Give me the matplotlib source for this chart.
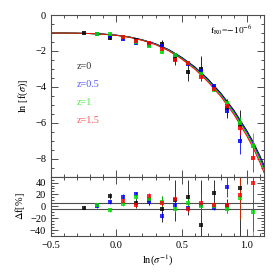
import numpy as np
import matplotlib.pyplot as plt
from matplotlib.ticker import MultipleLocator

plt.rcParams['font.family'] = ['Liberation Serif', 'DejaVu Serif']
plt.rcParams['mathtext.fontset'] = 'stix'

# theory curves  ln f(sigma) vs ln(1/sigma)
x_curve = [-0.5, -0.4, -0.3, -0.2, -0.1, 0.0, 0.1, 0.2, 0.3, 0.4, 0.5, 0.6, 0.7, 0.8, 0.9, 1.0, 1.05, 1.1, 1.15]
curve_z0 = [-1.00, -1.00, -1.01, -1.03, -1.06, -1.12, -1.22, -1.38, -1.60, -1.92, -2.35, -2.88, -3.55, -4.35, -5.30, -6.45, -7.10, -7.85, -8.70]
curve_z05 = [-1.00, -1.00, -1.01, -1.03, -1.06, -1.12, -1.22, -1.39, -1.61, -1.94, -2.38, -2.92, -3.60, -4.41, -5.38, -6.55, -7.22, -7.98, -8.85]
curve_z1 = [-1.00, -1.00, -1.01, -1.03, -1.07, -1.13, -1.23, -1.40, -1.63, -1.96, -2.41, -2.96, -3.65, -4.47, -5.45, -6.64, -7.32, -8.10, -8.98]
curve_z15 = [-1.00, -1.00, -1.01, -1.03, -1.07, -1.13, -1.24, -1.41, -1.65, -1.99, -2.45, -3.01, -3.71, -4.54, -5.54, -6.75, -7.44, -8.23, -9.12]

# simulation bins
x_bins = [-0.25, -0.15, -0.05, 0.05, 0.15, 0.25, 0.35, 0.45, 0.55, 0.65, 0.75, 0.85, 0.95, 1.05]
nan = np.nan
lnf_z0 = [-1.02, nan, -1.26, nan, -1.40, -1.62, -1.60, -2.45, -3.15, -3.00, -4.04, -5.20, -6.10, nan]
lnf_z05 = [nan, -1.06, -1.17, -1.33, -1.55, -1.64, -1.72, -2.20, -2.70, -3.10, -3.94, -5.37, -7.04, nan]
lnf_z1 = [nan, -1.05, -1.03, -1.20, -1.48, -1.70, -2.04, -2.22, -2.69, -3.30, -4.17, -4.90, -6.02, -7.28]
lnf_z15 = [nan, nan, nan, -1.24, -1.43, -1.57, -1.90, -2.50, -2.65, -3.43, -4.13, -5.09, -6.30, -7.96]
lnf_err_z0 = [0.03, nan, 0.05, nan, 0.08, 0.08, 0.22, 0.35, 0.5, 0.7, 0.2, 0.55, 0.8, nan]
lnf_err_z05 = [nan, 0.03, 0.03, 0.04, 0.04, 0.05, 0.06, 0.05, 0.05, 0.05, 0.05, 0.18, 0.7, nan]
lnf_err_z1 = [nan, 0.03, 0.03, 0.03, 0.04, 0.05, 0.1, 0.05, 0.08, 0.08, 0.05, 0.08, 0.35, 0.7]
lnf_err_z15 = [nan, nan, nan, 0.03, 0.03, 0.04, 0.05, 0.05, 0.05, 0.16, 0.04, 0.05, 0.4, 0.8]

# residuals in percent
df_z0 = [-2, nan, 17, nan, 6, 10, -5, 10, 15, -31, 22, 0, 31, nan]
df_z05 = [nan, 1, 7, 16, 20, 8, -16, 2, -2, 3, -2, 33, nan, nan]
df_z1 = [nan, 3, -6, 4, 16, 13, 8, -5, 6, 0, 0, -4, 14, -10]
df_z15 = [nan, nan, nan, 9, 2, 18, 6, 13, -5, 6, 3, 2, 19, 39]
df_err_z0 = [3, nan, 5, nan, 8, 8, 22, 35, 30, 76, 22, 12, 85, nan]
df_err_z05 = [nan, 3, 3, 4, 4, 5, 6, 5, 5, 5, 5, 18, nan, nan]
df_err_z1 = [nan, 3, 3, 3, 4, 5, 10, 5, 8, 8, 5, 8, 36, 70]
df_err_z15 = [nan, nan, nan, 3, 3, 4, 5, 5, 5, 16, 4, 5, 40, 80]

labels = ['z=0', 'z=0.5', 'z=1', 'z=1.5']
colors = ['black', 'blue', '#00dd00', 'red']
text_colors = ['#333333', '#5555ff', '#44ee44', '#ff5555']
curves = [curve_z0, curve_z05, curve_z1, curve_z15]
lnf = [lnf_z0, lnf_z05, lnf_z1, lnf_z15]
lnf_err = [lnf_err_z0, lnf_err_z05, lnf_err_z1, lnf_err_z15]
dfs = [df_z0, df_z05, df_z1, df_z15]
df_errs = [df_err_z0, df_err_z05, df_err_z1, df_err_z15]

fig = plt.figure(figsize=(2.79, 2.79), dpi=100)
ax1 = fig.add_axes([0.183, 0.367, 0.763, 0.579])
ax2 = fig.add_axes([0.183, 0.154, 0.763, 0.213])

for c, col in zip(curves, colors):
    ax1.plot(x_curve, c, color=col, lw=0.7)

for y, e, col in zip(lnf, lnf_err, colors):
    ax1.errorbar(x_bins, y, yerr=e, fmt='s', color=col, ms=2.6, mew=0,
                 ecolor=col, elinewidth=0.7, capsize=1.4, capthick=0.6, alpha=0.85)

for d, e, col in zip(dfs, df_errs, colors):
    ax2.errorbar(x_bins, d, yerr=e, fmt='s', color=col, ms=2.6, mew=0,
                 ecolor=col, elinewidth=0.7, capsize=1.4, capthick=0.6, alpha=0.8)
ax2.axhline(5, color='0.3', lw=0.8)
ax2.axhline(-5, color='0.3', lw=0.8)

for i, (lab, col) in enumerate(zip(labels, text_colors)):
    ax1.text(-0.3, -2.85 - i * 1.0, lab, color=col, fontsize=7.3, va='center', ha='left')
ax1.text(0.72, -0.85, r'f$_{\rm R0}$=$-$10$^{-6}$', fontsize=6.8, va='center', ha='left')

ax1.set_xlim(-0.5, 1.13)
ax1.set_ylim(-9, 0)
ax2.set_xlim(-0.5, 1.13)
ax2.set_ylim(-50, 50)

for ax in (ax1, ax2):
    ax.xaxis.set_major_locator(MultipleLocator(0.5))
    ax.xaxis.set_minor_locator(MultipleLocator(0.1))
    ax.tick_params(which='both', direction='in', top=True, right=True,
                   labelsize=7.5, color='0.3', width=0.7)
    ax.tick_params(which='major', length=5)
    ax.tick_params(which='minor', length=2.5)
    for sp in ax.spines.values():
        sp.set_color('0.3')
        sp.set_linewidth(0.8)

ax1.yaxis.set_major_locator(MultipleLocator(2))
ax1.yaxis.set_minor_locator(MultipleLocator(0.5))
ax1.tick_params(labelbottom=False)
ax2.yaxis.set_major_locator(MultipleLocator(20))
ax2.yaxis.set_minor_locator(MultipleLocator(5))

ax1.set_ylabel(r'ln [f($\sigma$)]', fontsize=7.5, labelpad=4)
ax2.set_ylabel(r'$\Delta$f[%]', fontsize=7.5, labelpad=2)
ax2.set_xlabel(r'ln($\sigma^{-1}$)', fontsize=7.5, labelpad=2)

fig.savefig('out.png', dpi=100)
